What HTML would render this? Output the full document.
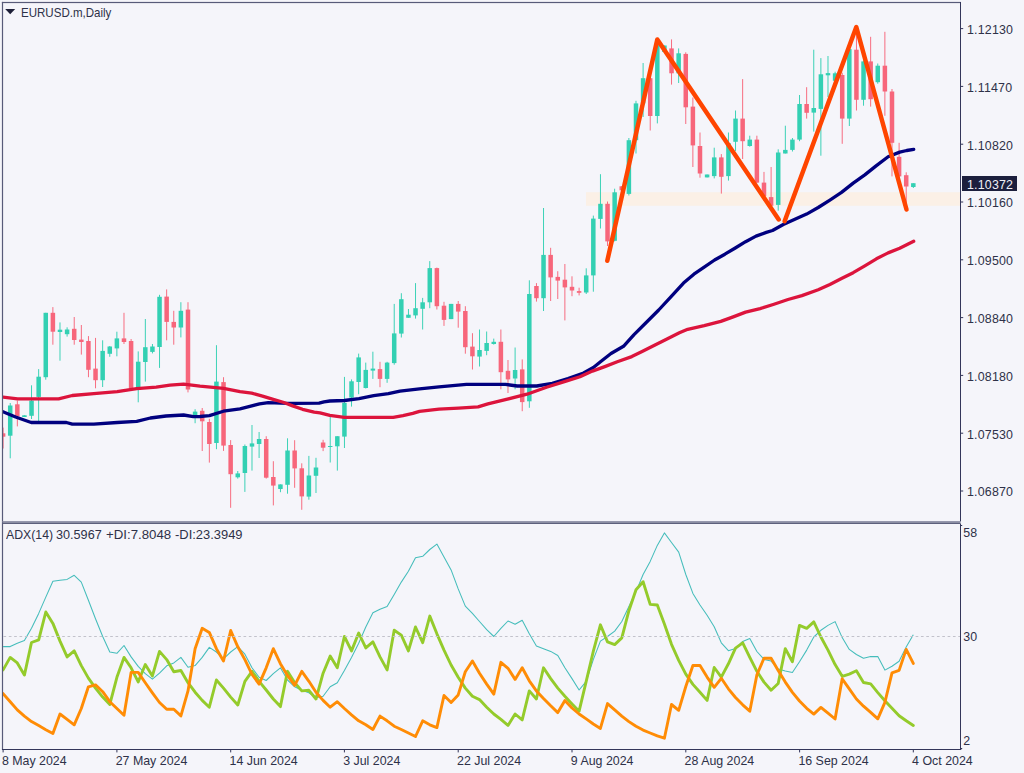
<!DOCTYPE html>
<html><head><meta charset="utf-8"><title>EURUSD.m,Daily</title>
<style>
html,body{margin:0;padding:0;background:#f5f5fa;}
body{width:1024px;height:773px;position:relative;overflow:hidden;font-family:"Liberation Sans",sans-serif;}
.t{position:absolute;font-size:12.4px;line-height:16px;height:16px;color:#2e3148;white-space:nowrap;}
</style></head><body>
<svg width="1024" height="773" viewBox="0 0 1024 773" style="position:absolute;left:0;top:0">
<defs><clipPath id="cm"><rect x="3" y="3" width="957" height="518"/></clipPath><clipPath id="ca"><rect x="3" y="524" width="957" height="225"/></clipPath></defs>
<g clip-path="url(#cm)">
<rect x="586" y="192.2" width="374" height="13.6" fill="#fbf0e6"/>
<rect x="2.62" y="427.6" width="0.95" height="20.9" fill="#f7667b"/>
<rect x="0.85" y="433.3" width="4.5" height="3.4" fill="#f7667b"/>
<rect x="9.74" y="403.0" width="0.95" height="55.3" fill="#33d0b3"/>
<rect x="7.96" y="405.5" width="4.5" height="30.2" fill="#33d0b3"/>
<rect x="16.85" y="400.6" width="0.95" height="25.8" fill="#f7667b"/>
<rect x="15.07" y="404.3" width="4.5" height="12.2" fill="#f7667b"/>
<rect x="23.96" y="415.3" width="0.95" height="1.7" fill="#33d0b3"/>
<rect x="22.18" y="415.3" width="4.5" height="1.7" fill="#33d0b3"/>
<rect x="31.07" y="385.3" width="0.95" height="33.7" fill="#33d0b3"/>
<rect x="29.29" y="400.6" width="4.5" height="15.2" fill="#33d0b3"/>
<rect x="38.18" y="369.1" width="0.95" height="52.4" fill="#33d0b3"/>
<rect x="36.41" y="376.7" width="4.5" height="20.2" fill="#33d0b3"/>
<rect x="45.29" y="312.8" width="0.95" height="66.9" fill="#33d0b3"/>
<rect x="43.52" y="312.8" width="4.5" height="64.4" fill="#33d0b3"/>
<rect x="52.40" y="307.1" width="0.95" height="37.6" fill="#f7667b"/>
<rect x="50.63" y="312.8" width="4.5" height="18.9" fill="#f7667b"/>
<rect x="59.51" y="322.4" width="0.95" height="38.3" fill="#33d0b3"/>
<rect x="57.74" y="329.7" width="4.5" height="2.3" fill="#33d0b3"/>
<rect x="66.62" y="327.3" width="0.95" height="9.3" fill="#33d0b3"/>
<rect x="64.85" y="329.5" width="4.5" height="4.7" fill="#33d0b3"/>
<rect x="73.74" y="317.0" width="0.95" height="27.7" fill="#f7667b"/>
<rect x="71.96" y="328.8" width="4.5" height="11.2" fill="#f7667b"/>
<rect x="80.85" y="325.0" width="0.95" height="29.6" fill="#f7667b"/>
<rect x="79.07" y="339.6" width="4.5" height="2.4" fill="#f7667b"/>
<rect x="87.96" y="336.1" width="0.95" height="41.1" fill="#f7667b"/>
<rect x="86.18" y="341.0" width="4.5" height="28.8" fill="#f7667b"/>
<rect x="95.07" y="337.9" width="0.95" height="50.4" fill="#f7667b"/>
<rect x="93.29" y="368.6" width="4.5" height="11.6" fill="#f7667b"/>
<rect x="102.18" y="340.3" width="0.95" height="46.7" fill="#33d0b3"/>
<rect x="100.41" y="350.9" width="4.5" height="29.3" fill="#33d0b3"/>
<rect x="109.29" y="346.0" width="0.95" height="10.8" fill="#33d0b3"/>
<rect x="107.52" y="346.5" width="4.5" height="7.3" fill="#33d0b3"/>
<rect x="116.40" y="331.7" width="0.95" height="24.6" fill="#33d0b3"/>
<rect x="114.63" y="338.4" width="4.5" height="10.0" fill="#33d0b3"/>
<rect x="123.51" y="312.8" width="0.95" height="31.2" fill="#f7667b"/>
<rect x="121.74" y="338.4" width="4.5" height="3.6" fill="#f7667b"/>
<rect x="130.62" y="339.0" width="0.95" height="50.5" fill="#f7667b"/>
<rect x="128.85" y="341.0" width="4.5" height="47.3" fill="#f7667b"/>
<rect x="137.74" y="351.4" width="0.95" height="50.9" fill="#33d0b3"/>
<rect x="135.96" y="361.7" width="4.5" height="26.1" fill="#33d0b3"/>
<rect x="144.85" y="319.0" width="0.95" height="62.6" fill="#33d0b3"/>
<rect x="143.07" y="347.2" width="4.5" height="14.8" fill="#33d0b3"/>
<rect x="151.96" y="344.0" width="0.95" height="9.4" fill="#33d0b3"/>
<rect x="150.18" y="346.5" width="4.5" height="5.4" fill="#33d0b3"/>
<rect x="159.07" y="294.8" width="0.95" height="73.1" fill="#33d0b3"/>
<rect x="157.29" y="296.8" width="4.5" height="50.2" fill="#33d0b3"/>
<rect x="166.18" y="289.4" width="0.95" height="50.9" fill="#f7667b"/>
<rect x="164.41" y="296.6" width="4.5" height="25.3" fill="#f7667b"/>
<rect x="173.29" y="310.8" width="0.95" height="33.9" fill="#f7667b"/>
<rect x="171.52" y="321.9" width="4.5" height="5.6" fill="#f7667b"/>
<rect x="180.40" y="302.2" width="0.95" height="35.2" fill="#33d0b3"/>
<rect x="178.63" y="310.8" width="4.5" height="16.7" fill="#33d0b3"/>
<rect x="187.51" y="302.2" width="0.95" height="90.2" fill="#f7667b"/>
<rect x="185.74" y="309.6" width="4.5" height="79.9" fill="#f7667b"/>
<rect x="194.62" y="409.2" width="0.95" height="14.0" fill="#33d0b3"/>
<rect x="192.85" y="411.6" width="4.5" height="3.7" fill="#33d0b3"/>
<rect x="201.74" y="408.0" width="0.95" height="43.0" fill="#f7667b"/>
<rect x="199.96" y="410.8" width="4.5" height="10.5" fill="#f7667b"/>
<rect x="208.85" y="418.8" width="0.95" height="43.8" fill="#f7667b"/>
<rect x="207.07" y="422.0" width="4.5" height="22.0" fill="#f7667b"/>
<rect x="215.96" y="345.2" width="0.95" height="104.0" fill="#33d0b3"/>
<rect x="214.18" y="381.6" width="4.5" height="61.4" fill="#33d0b3"/>
<rect x="223.07" y="377.2" width="0.95" height="73.7" fill="#f7667b"/>
<rect x="221.29" y="382.1" width="4.5" height="63.5" fill="#f7667b"/>
<rect x="230.18" y="440.1" width="0.95" height="67.7" fill="#f7667b"/>
<rect x="228.41" y="445.0" width="4.5" height="29.2" fill="#f7667b"/>
<rect x="237.29" y="471.0" width="0.95" height="7.6" fill="#33d0b3"/>
<rect x="235.52" y="473.4" width="4.5" height="3.9" fill="#33d0b3"/>
<rect x="244.40" y="444.5" width="0.95" height="47.4" fill="#33d0b3"/>
<rect x="242.63" y="446.0" width="4.5" height="27.0" fill="#33d0b3"/>
<rect x="251.51" y="425.0" width="0.95" height="45.6" fill="#33d0b3"/>
<rect x="249.74" y="443.4" width="4.5" height="3.2" fill="#33d0b3"/>
<rect x="258.62" y="432.0" width="0.95" height="26.0" fill="#33d0b3"/>
<rect x="256.85" y="439.0" width="4.5" height="5.0" fill="#33d0b3"/>
<rect x="265.74" y="436.2" width="0.95" height="42.4" fill="#f7667b"/>
<rect x="263.96" y="439.0" width="4.5" height="38.7" fill="#f7667b"/>
<rect x="272.85" y="461.2" width="0.95" height="44.2" fill="#f7667b"/>
<rect x="271.07" y="477.0" width="4.5" height="8.6" fill="#f7667b"/>
<rect x="279.96" y="484.4" width="0.95" height="7.8" fill="#33d0b3"/>
<rect x="278.18" y="484.4" width="4.5" height="4.6" fill="#33d0b3"/>
<rect x="287.07" y="438.3" width="0.95" height="55.4" fill="#33d0b3"/>
<rect x="285.29" y="450.5" width="4.5" height="34.3" fill="#33d0b3"/>
<rect x="294.18" y="440.2" width="0.95" height="47.6" fill="#f7667b"/>
<rect x="292.41" y="450.5" width="4.5" height="17.9" fill="#f7667b"/>
<rect x="301.29" y="463.3" width="0.95" height="46.5" fill="#f7667b"/>
<rect x="299.52" y="468.3" width="4.5" height="28.1" fill="#f7667b"/>
<rect x="308.40" y="455.9" width="0.95" height="43.8" fill="#33d0b3"/>
<rect x="306.63" y="475.5" width="4.5" height="21.1" fill="#33d0b3"/>
<rect x="315.51" y="457.8" width="0.95" height="35.2" fill="#33d0b3"/>
<rect x="313.74" y="467.5" width="4.5" height="8.3" fill="#33d0b3"/>
<rect x="322.62" y="439.8" width="0.95" height="11.3" fill="#f7667b"/>
<rect x="320.85" y="442.5" width="4.5" height="5.2" fill="#f7667b"/>
<rect x="329.74" y="416.0" width="0.95" height="46.5" fill="#33d0b3"/>
<rect x="327.96" y="446.0" width="4.5" height="1.0" fill="#33d0b3"/>
<rect x="336.85" y="436.2" width="0.95" height="34.4" fill="#33d0b3"/>
<rect x="335.07" y="436.2" width="4.5" height="10.1" fill="#33d0b3"/>
<rect x="343.96" y="376.9" width="0.95" height="71.1" fill="#33d0b3"/>
<rect x="342.18" y="402.8" width="4.5" height="33.8" fill="#33d0b3"/>
<rect x="351.07" y="379.4" width="0.95" height="27.2" fill="#33d0b3"/>
<rect x="349.29" y="381.3" width="4.5" height="16.3" fill="#33d0b3"/>
<rect x="358.18" y="353.6" width="0.95" height="40.6" fill="#33d0b3"/>
<rect x="356.41" y="357.4" width="4.5" height="24.6" fill="#33d0b3"/>
<rect x="365.29" y="362.6" width="0.95" height="25.9" fill="#33d0b3"/>
<rect x="363.52" y="369.9" width="4.5" height="18.1" fill="#33d0b3"/>
<rect x="372.40" y="351.7" width="0.95" height="27.2" fill="#33d0b3"/>
<rect x="370.63" y="368.6" width="4.5" height="2.0" fill="#33d0b3"/>
<rect x="379.51" y="361.8" width="0.95" height="25.4" fill="#f7667b"/>
<rect x="377.74" y="369.1" width="4.5" height="9.8" fill="#f7667b"/>
<rect x="386.62" y="361.8" width="0.95" height="21.0" fill="#33d0b3"/>
<rect x="384.85" y="362.6" width="4.5" height="16.3" fill="#33d0b3"/>
<rect x="393.74" y="303.9" width="0.95" height="60.8" fill="#33d0b3"/>
<rect x="391.96" y="333.4" width="4.5" height="29.7" fill="#33d0b3"/>
<rect x="400.85" y="293.2" width="0.95" height="44.3" fill="#33d0b3"/>
<rect x="399.07" y="299.2" width="4.5" height="34.4" fill="#33d0b3"/>
<rect x="407.96" y="309.0" width="0.95" height="8.8" fill="#33d0b3"/>
<rect x="406.18" y="314.7" width="4.5" height="3.1" fill="#33d0b3"/>
<rect x="415.07" y="283.1" width="0.95" height="35.5" fill="#33d0b3"/>
<rect x="413.29" y="308.2" width="4.5" height="7.2" fill="#33d0b3"/>
<rect x="422.18" y="297.9" width="0.95" height="31.6" fill="#33d0b3"/>
<rect x="420.40" y="302.3" width="4.5" height="6.5" fill="#33d0b3"/>
<rect x="429.29" y="261.1" width="0.95" height="47.1" fill="#33d0b3"/>
<rect x="427.52" y="268.1" width="4.5" height="34.2" fill="#33d0b3"/>
<rect x="436.40" y="267.6" width="0.95" height="41.9" fill="#f7667b"/>
<rect x="434.63" y="268.1" width="4.5" height="38.1" fill="#f7667b"/>
<rect x="443.51" y="301.8" width="0.95" height="24.1" fill="#f7667b"/>
<rect x="441.74" y="305.7" width="4.5" height="14.2" fill="#f7667b"/>
<rect x="450.62" y="303.9" width="0.95" height="15.2" fill="#33d0b3"/>
<rect x="448.85" y="303.9" width="4.5" height="15.2" fill="#33d0b3"/>
<rect x="457.74" y="301.0" width="0.95" height="26.7" fill="#f7667b"/>
<rect x="455.96" y="303.9" width="4.5" height="7.7" fill="#f7667b"/>
<rect x="464.85" y="306.2" width="0.95" height="47.5" fill="#f7667b"/>
<rect x="463.07" y="311.0" width="4.5" height="36.2" fill="#f7667b"/>
<rect x="471.96" y="333.2" width="0.95" height="36.3" fill="#f7667b"/>
<rect x="470.18" y="346.6" width="4.5" height="9.7" fill="#f7667b"/>
<rect x="479.07" y="329.5" width="0.95" height="37.0" fill="#33d0b3"/>
<rect x="477.29" y="350.0" width="4.5" height="6.6" fill="#33d0b3"/>
<rect x="486.18" y="331.5" width="0.95" height="23.7" fill="#33d0b3"/>
<rect x="484.40" y="343.0" width="4.5" height="7.9" fill="#33d0b3"/>
<rect x="493.29" y="338.6" width="0.95" height="6.0" fill="#33d0b3"/>
<rect x="491.52" y="341.8" width="4.5" height="2.2" fill="#33d0b3"/>
<rect x="500.40" y="329.5" width="0.95" height="59.8" fill="#f7667b"/>
<rect x="498.63" y="341.8" width="4.5" height="30.4" fill="#f7667b"/>
<rect x="507.51" y="360.0" width="0.95" height="33.0" fill="#f7667b"/>
<rect x="505.74" y="370.8" width="4.5" height="8.6" fill="#f7667b"/>
<rect x="514.62" y="347.5" width="0.95" height="41.8" fill="#33d0b3"/>
<rect x="512.85" y="370.0" width="4.5" height="8.5" fill="#33d0b3"/>
<rect x="521.74" y="359.4" width="0.95" height="51.8" fill="#f7667b"/>
<rect x="519.96" y="369.4" width="4.5" height="32.7" fill="#f7667b"/>
<rect x="528.85" y="280.3" width="0.95" height="127.5" fill="#33d0b3"/>
<rect x="527.07" y="294.0" width="4.5" height="107.3" fill="#33d0b3"/>
<rect x="535.96" y="283.1" width="0.95" height="18.5" fill="#f7667b"/>
<rect x="534.18" y="286.0" width="4.5" height="12.2" fill="#f7667b"/>
<rect x="543.07" y="208.0" width="0.95" height="103.0" fill="#33d0b3"/>
<rect x="541.29" y="254.9" width="4.5" height="43.3" fill="#33d0b3"/>
<rect x="550.18" y="247.8" width="0.95" height="53.2" fill="#f7667b"/>
<rect x="548.40" y="254.9" width="4.5" height="22.5" fill="#f7667b"/>
<rect x="557.29" y="271.2" width="0.95" height="27.8" fill="#f7667b"/>
<rect x="555.52" y="276.9" width="4.5" height="3.7" fill="#f7667b"/>
<rect x="564.40" y="264.0" width="0.95" height="56.4" fill="#f7667b"/>
<rect x="562.63" y="279.7" width="4.5" height="7.7" fill="#f7667b"/>
<rect x="571.51" y="276.3" width="0.95" height="19.9" fill="#f7667b"/>
<rect x="569.74" y="286.8" width="4.5" height="3.7" fill="#f7667b"/>
<rect x="578.62" y="287.7" width="0.95" height="7.7" fill="#f7667b"/>
<rect x="576.85" y="291.1" width="4.5" height="1.7" fill="#f7667b"/>
<rect x="585.74" y="268.3" width="0.95" height="25.7" fill="#33d0b3"/>
<rect x="583.96" y="275.4" width="4.5" height="17.1" fill="#33d0b3"/>
<rect x="592.85" y="215.6" width="0.95" height="76.1" fill="#33d0b3"/>
<rect x="591.07" y="218.6" width="4.5" height="56.8" fill="#33d0b3"/>
<rect x="599.96" y="174.2" width="0.95" height="54.3" fill="#33d0b3"/>
<rect x="598.18" y="203.8" width="4.5" height="15.1" fill="#33d0b3"/>
<rect x="607.07" y="201.5" width="0.95" height="44.5" fill="#f7667b"/>
<rect x="605.29" y="203.8" width="4.5" height="37.6" fill="#f7667b"/>
<rect x="614.18" y="188.7" width="0.95" height="52.7" fill="#33d0b3"/>
<rect x="612.40" y="192.3" width="4.5" height="48.5" fill="#33d0b3"/>
<rect x="621.29" y="186.0" width="0.95" height="4.5" fill="#f7667b"/>
<rect x="619.52" y="186.3" width="4.5" height="4.0" fill="#f7667b"/>
<rect x="628.40" y="138.0" width="0.95" height="57.5" fill="#33d0b3"/>
<rect x="626.63" y="140.2" width="4.5" height="53.7" fill="#33d0b3"/>
<rect x="635.51" y="100.8" width="0.95" height="52.7" fill="#33d0b3"/>
<rect x="633.74" y="103.4" width="4.5" height="36.8" fill="#33d0b3"/>
<rect x="642.62" y="63.0" width="0.95" height="54.0" fill="#33d0b3"/>
<rect x="640.85" y="78.2" width="4.5" height="25.2" fill="#33d0b3"/>
<rect x="649.74" y="73.3" width="0.95" height="57.2" fill="#f7667b"/>
<rect x="647.96" y="78.2" width="4.5" height="37.8" fill="#f7667b"/>
<rect x="656.85" y="44.2" width="0.95" height="79.2" fill="#33d0b3"/>
<rect x="655.07" y="45.2" width="4.5" height="70.8" fill="#33d0b3"/>
<rect x="663.96" y="45.5" width="0.95" height="6.5" fill="#33d0b3"/>
<rect x="662.18" y="45.5" width="4.5" height="6.5" fill="#33d0b3"/>
<rect x="671.07" y="39.4" width="0.95" height="45.2" fill="#f7667b"/>
<rect x="669.29" y="48.4" width="4.5" height="24.9" fill="#f7667b"/>
<rect x="678.18" y="48.4" width="0.95" height="34.6" fill="#33d0b3"/>
<rect x="676.40" y="53.3" width="4.5" height="20.0" fill="#33d0b3"/>
<rect x="685.29" y="52.3" width="0.95" height="71.7" fill="#f7667b"/>
<rect x="683.52" y="53.9" width="4.5" height="53.4" fill="#f7667b"/>
<rect x="692.40" y="97.5" width="0.95" height="69.5" fill="#f7667b"/>
<rect x="690.63" y="106.6" width="4.5" height="38.8" fill="#f7667b"/>
<rect x="699.51" y="132.5" width="0.95" height="45.2" fill="#f7667b"/>
<rect x="697.74" y="146.0" width="4.5" height="27.5" fill="#f7667b"/>
<rect x="706.62" y="174.5" width="0.95" height="2.9" fill="#33d0b3"/>
<rect x="704.85" y="174.5" width="4.5" height="2.9" fill="#33d0b3"/>
<rect x="713.74" y="147.7" width="0.95" height="30.7" fill="#33d0b3"/>
<rect x="711.96" y="157.4" width="4.5" height="18.7" fill="#33d0b3"/>
<rect x="720.85" y="154.1" width="0.95" height="39.5" fill="#f7667b"/>
<rect x="719.07" y="157.4" width="4.5" height="19.4" fill="#f7667b"/>
<rect x="727.96" y="132.5" width="0.95" height="48.1" fill="#33d0b3"/>
<rect x="726.18" y="143.0" width="4.5" height="33.1" fill="#33d0b3"/>
<rect x="735.07" y="110.5" width="0.95" height="40.5" fill="#33d0b3"/>
<rect x="733.29" y="118.6" width="4.5" height="23.2" fill="#33d0b3"/>
<rect x="742.18" y="79.1" width="0.95" height="79.9" fill="#f7667b"/>
<rect x="740.40" y="118.6" width="4.5" height="22.6" fill="#f7667b"/>
<rect x="749.29" y="135.7" width="0.95" height="11.0" fill="#33d0b3"/>
<rect x="747.52" y="139.6" width="4.5" height="6.4" fill="#33d0b3"/>
<rect x="756.40" y="135.7" width="0.95" height="47.5" fill="#f7667b"/>
<rect x="754.63" y="139.6" width="4.5" height="43.0" fill="#f7667b"/>
<rect x="763.51" y="171.9" width="0.95" height="29.1" fill="#f7667b"/>
<rect x="761.74" y="182.6" width="4.5" height="13.5" fill="#f7667b"/>
<rect x="770.62" y="167.0" width="0.95" height="38.8" fill="#f7667b"/>
<rect x="768.85" y="197.1" width="4.5" height="8.7" fill="#f7667b"/>
<rect x="777.73" y="149.3" width="0.95" height="61.4" fill="#33d0b3"/>
<rect x="775.96" y="152.5" width="4.5" height="52.4" fill="#33d0b3"/>
<rect x="784.85" y="125.7" width="0.95" height="27.8" fill="#33d0b3"/>
<rect x="783.07" y="149.9" width="4.5" height="3.6" fill="#33d0b3"/>
<rect x="791.96" y="138.0" width="0.95" height="13.5" fill="#33d0b3"/>
<rect x="790.18" y="139.6" width="4.5" height="10.3" fill="#33d0b3"/>
<rect x="799.07" y="95.0" width="0.95" height="46.2" fill="#33d0b3"/>
<rect x="797.29" y="104.0" width="4.5" height="35.6" fill="#33d0b3"/>
<rect x="806.18" y="87.2" width="0.95" height="31.4" fill="#f7667b"/>
<rect x="804.40" y="104.0" width="4.5" height="8.8" fill="#f7667b"/>
<rect x="813.29" y="49.7" width="0.95" height="81.9" fill="#33d0b3"/>
<rect x="811.52" y="108.0" width="4.5" height="4.6" fill="#33d0b3"/>
<rect x="820.40" y="58.1" width="0.95" height="97.6" fill="#33d0b3"/>
<rect x="818.63" y="74.3" width="4.5" height="34.6" fill="#33d0b3"/>
<rect x="827.51" y="56.0" width="0.95" height="41.0" fill="#33d0b3"/>
<rect x="825.74" y="73.1" width="4.5" height="2.2" fill="#33d0b3"/>
<rect x="834.62" y="71.7" width="0.95" height="9.7" fill="#33d0b3"/>
<rect x="832.85" y="73.3" width="4.5" height="7.5" fill="#33d0b3"/>
<rect x="841.73" y="72.7" width="0.95" height="71.1" fill="#f7667b"/>
<rect x="839.96" y="75.0" width="4.5" height="43.6" fill="#f7667b"/>
<rect x="848.85" y="45.9" width="0.95" height="80.1" fill="#33d0b3"/>
<rect x="847.07" y="49.1" width="4.5" height="69.5" fill="#33d0b3"/>
<rect x="855.96" y="29.7" width="0.95" height="80.8" fill="#f7667b"/>
<rect x="854.18" y="49.7" width="4.5" height="50.1" fill="#f7667b"/>
<rect x="863.07" y="60.4" width="0.95" height="45.3" fill="#33d0b3"/>
<rect x="861.29" y="61.4" width="4.5" height="38.4" fill="#33d0b3"/>
<rect x="870.18" y="36.8" width="0.95" height="69.8" fill="#f7667b"/>
<rect x="868.40" y="61.4" width="4.5" height="37.8" fill="#f7667b"/>
<rect x="877.29" y="63.5" width="0.95" height="20.2" fill="#33d0b3"/>
<rect x="875.52" y="65.7" width="4.5" height="16.5" fill="#33d0b3"/>
<rect x="884.40" y="31.8" width="0.95" height="84.0" fill="#f7667b"/>
<rect x="882.63" y="65.7" width="4.5" height="25.8" fill="#f7667b"/>
<rect x="891.51" y="89.0" width="0.95" height="87.4" fill="#f7667b"/>
<rect x="889.74" y="91.5" width="4.5" height="51.3" fill="#f7667b"/>
<rect x="898.62" y="142.8" width="0.95" height="38.9" fill="#f7667b"/>
<rect x="896.85" y="156.8" width="4.5" height="19.6" fill="#f7667b"/>
<rect x="905.73" y="172.3" width="0.95" height="34.5" fill="#f7667b"/>
<rect x="903.96" y="175.2" width="4.5" height="11.3" fill="#f7667b"/>
<rect x="912.85" y="183.2" width="0.95" height="4.8" fill="#33d0b3"/>
<rect x="911.07" y="183.2" width="4.5" height="3.8" fill="#33d0b3"/>
<polyline points="2.9,411.7 15.6,417.0 31.2,422.5 66.4,422.5 72.3,424.2 93.8,424.2 117.2,422.5 136.7,421.3 150.4,418.0 166.0,416.0 183.6,415.0 193.4,416.6 200.0,416.5 209.4,415.6 223.4,411.2 240.0,408.8 249.8,406.4 259.5,403.9 268.3,402.7 281.0,403.2 294.7,403.4 319.1,403.2 324.0,401.9 329.8,401.0 344.4,400.5 359.0,398.6 373.7,395.6 388.4,393.7 400.0,391.1 419.5,388.9 439.0,386.8 466.4,384.4 505.5,384.4 517.2,386.0 536.7,386.0 552.3,383.4 568.0,378.5 583.6,373.0 593.4,367.5 600.5,361.8 611.0,353.5 623.5,346.3 633.8,334.9 646.2,322.5 658.7,310.0 671.1,296.6 683.5,283.1 693.9,274.2 704.2,267.2 714.6,260.0 724.9,254.2 735.3,248.0 745.6,241.7 756.0,236.1 766.3,232.4 772.5,230.5 783.3,224.5 794.9,219.2 806.6,214.1 818.2,207.5 829.9,200.1 841.5,192.4 853.2,183.1 864.8,174.9 876.4,165.6 888.1,156.8 899.7,152.1 906.7,150.5 913.7,149.3" fill="none" stroke="#00007f" stroke-width="3.3" stroke-linejoin="round" stroke-linecap="round"/>
<polyline points="2.9,397.1 17.6,398.8 58.6,398.8 72.3,395.5 93.8,393.6 117.2,391.6 136.7,388.7 156.2,387.1 170.0,385.2 183.6,384.2 200.0,386.1 223.6,388.3 240.0,391.7 251.7,393.2 262.5,396.1 273.2,399.3 283.9,402.5 292.7,405.9 302.5,409.3 314.2,412.2 320.0,412.9 329.8,415.4 344.4,417.3 393.2,417.3 403.0,415.6 412.8,413.4 419.5,411.4 439.0,409.2 458.6,408.2 478.1,406.9 487.9,403.9 507.4,399.1 527.0,394.2 546.5,387.3 566.0,381.1 580.0,376.7 592.4,371.1 604.8,366.6 617.3,361.8 631.8,356.6 642.1,351.5 654.5,345.3 667.0,339.0 679.4,332.8 687.7,329.3 704.2,325.6 720.8,321.4 733.2,316.9 745.6,312.1 760.1,308.6 774.0,304.2 788.0,299.5 801.9,295.6 818.2,289.7 829.9,284.4 841.5,278.6 853.2,272.7 864.8,265.8 876.4,258.8 888.1,252.9 899.7,248.3 913.7,241.3" fill="none" stroke="#dc143c" stroke-width="3.3" stroke-linejoin="round" stroke-linecap="round"/>
<polyline points="607.3,260.7 657.3,39.5 778.7,219.5" fill="none" stroke="#ff4500" stroke-width="4.5" stroke-linejoin="round" stroke-linecap="round"/>
<polyline points="784.6,221.3 856.3,27 906.5,209.5" fill="none" stroke="#ff4500" stroke-width="4.5" stroke-linejoin="round" stroke-linecap="round"/>
</g>
<g clip-path="url(#ca)">
<polyline points="3.1,646.6 10.2,646.6 17.3,643.3 24.4,640.6 31.5,628.3 38.7,613.4 45.8,597.1 52.9,581.3 60.0,580.2 67.1,579.4 74.2,575.3 81.3,582.1 88.4,600.3 95.5,618.8 102.7,636.5 109.8,652.0 116.9,653.3 124.0,645.5 131.1,656.9 138.2,666.4 145.3,673.7 152.4,679.2 159.5,673.2 166.7,665.8 173.8,662.9 180.9,657.4 188.0,667.2 195.1,665.6 202.2,657.4 209.3,647.4 216.4,652.0 223.5,658.8 230.7,652.0 237.8,646.6 244.9,654.2 252.0,667.8 259.1,677.3 266.2,680.5 273.3,673.7 280.4,667.8 287.5,680.0 294.7,686.8 301.8,690.3 308.9,692.8 316.0,697.7 323.1,696.3 330.2,686.8 337.3,682.7 344.4,670.5 351.5,657.4 358.7,643.3 365.8,627.0 372.9,612.8 380.0,609.3 387.1,606.6 394.2,594.4 401.3,582.1 408.4,571.3 415.5,557.7 422.7,556.3 429.8,549.5 436.9,544.1 444.0,556.9 451.1,569.9 458.2,588.9 465.3,606.1 472.4,613.4 479.5,621.5 486.7,629.7 493.8,636.5 500.9,628.3 508.0,621.0 515.1,624.3 522.2,620.2 529.3,633.8 536.4,646.0 543.5,648.7 550.7,651.4 557.8,655.5 564.9,667.8 572.0,678.6 579.1,690.0 586.2,681.3 593.3,659.6 600.4,641.1 607.5,636.5 614.7,631.1 621.8,621.5 628.9,606.6 636.0,591.6 643.1,574.5 650.2,561.4 657.3,545.4 664.4,532.9 671.5,542.5 678.7,552.1 685.8,574.5 692.9,593.4 700.0,605.0 707.1,615.2 714.2,626.8 721.3,642.8 728.4,650.7 735.5,648.6 742.7,641.4 749.8,638.5 756.9,651.5 764.0,659.4 771.1,661.1 778.2,669.0 785.3,671.0 792.4,672.5 799.5,661.7 806.7,650.1 813.8,637.0 820.9,630.3 828.0,625.4 835.1,621.6 842.2,637.6 849.3,649.4 856.4,654.5 863.5,658.2 870.7,656.6 877.8,656.6 884.9,670.1 892.0,666.2 899.1,661.2 906.2,646.9 913.3,634.8" fill="none" stroke="#45bdbb" stroke-width="1.05" stroke-linejoin="round"/>
<polyline points="3.1,669.9 10.2,657.4 17.3,662.9 24.4,675.1 31.5,642.5 38.7,639.8 45.8,612.0 52.9,623.4 60.0,641.1 67.1,656.9 74.2,650.9 81.3,665.6 88.4,678.1 95.5,688.1 102.7,697.1 109.8,704.4 116.9,677.3 124.0,657.4 131.1,667.8 138.2,681.9 145.3,664.5 152.4,675.9 159.5,651.4 166.7,659.6 173.8,671.8 180.9,670.5 188.0,682.7 195.1,692.2 202.2,700.4 209.3,707.2 216.4,680.0 223.5,688.1 230.7,697.1 237.8,705.0 244.9,681.3 252.0,671.3 259.1,681.3 266.2,690.0 273.3,699.0 280.4,706.6 287.5,671.3 294.7,682.7 301.8,690.9 308.9,690.3 316.0,699.0 323.1,673.2 330.2,656.1 337.3,667.8 344.4,636.5 351.5,650.9 358.7,633.0 365.8,647.9 372.9,641.9 380.0,656.9 387.1,669.9 394.2,630.2 401.3,635.1 408.4,650.9 415.5,627.0 422.7,642.7 429.8,616.1 436.9,633.8 444.0,650.1 451.1,665.0 458.2,677.3 465.3,688.1 472.4,696.3 479.5,699.6 486.7,707.2 493.8,714.0 500.9,719.4 508.0,725.4 515.1,714.0 522.2,719.9 529.3,690.9 536.4,699.0 543.5,667.8 550.7,678.6 557.8,688.1 564.9,696.3 572.0,703.9 579.1,711.2 586.2,681.3 593.3,651.4 600.4,624.8 607.5,641.9 614.7,644.6 621.8,637.9 628.9,610.7 636.0,589.7 643.1,581.7 650.2,604.4 657.3,605.0 664.4,623.9 671.5,644.3 678.7,660.3 685.8,674.2 692.9,684.4 700.0,692.3 707.1,700.4 714.2,667.5 721.3,677.1 728.4,663.8 735.5,648.1 742.7,642.8 749.8,657.4 756.9,671.3 764.0,682.1 771.1,690.2 778.2,683.5 785.3,648.6 792.4,661.7 799.5,625.4 806.7,628.3 813.8,621.9 820.9,637.0 828.0,650.1 835.1,664.6 842.2,676.3 849.3,674.1 856.4,670.8 863.5,682.5 870.7,683.9 877.8,692.6 884.9,700.7 892.0,708.2 899.1,715.8 906.2,720.8 913.3,725.5" fill="none" stroke="#94cb2b" stroke-width="2.9" stroke-linejoin="round" stroke-linecap="round"/>
<polyline points="3.1,693.6 10.2,701.7 17.3,709.9 24.4,716.1 31.5,721.6 38.7,725.6 45.8,729.7 52.9,733.5 60.0,714.0 67.1,719.4 74.2,724.8 81.3,708.5 88.4,686.8 95.5,684.9 102.7,691.7 109.8,701.7 116.9,708.5 124.0,715.3 131.1,672.4 138.2,672.4 145.3,682.7 152.4,692.8 159.5,702.5 166.7,709.3 173.8,709.3 180.9,715.9 188.0,690.9 195.1,648.7 202.2,628.3 209.3,632.4 216.4,648.7 223.5,661.0 230.7,630.5 237.8,646.8 244.9,659.6 252.0,674.5 259.1,684.1 266.2,667.8 273.3,648.7 280.4,663.7 287.5,675.4 294.7,685.4 301.8,671.3 308.9,681.3 316.0,692.2 323.1,700.4 330.2,707.2 337.3,701.7 344.4,708.5 351.5,714.8 358.7,720.8 365.8,724.8 372.9,729.5 380.0,716.1 387.1,720.8 394.2,726.2 401.3,729.5 408.4,733.0 415.5,736.5 422.7,720.8 429.8,724.8 436.9,727.6 444.0,695.5 451.1,702.5 458.2,694.9 465.3,671.8 472.4,661.0 479.5,673.2 486.7,684.1 493.8,694.1 500.9,662.3 508.0,668.3 515.1,679.4 522.2,667.8 529.3,680.8 536.4,690.9 543.5,698.5 550.7,705.8 557.8,712.6 564.9,700.4 572.0,708.0 579.1,714.0 586.2,718.9 593.3,724.0 600.4,728.4 607.5,703.6 614.7,709.9 621.8,716.1 628.9,721.6 636.0,726.2 643.1,730.1 650.2,733.0 657.3,735.9 664.4,738.2 671.5,704.5 678.7,710.3 685.8,686.5 692.9,665.5 700.0,665.5 707.1,677.1 714.2,687.3 721.3,678.3 728.4,688.8 735.5,697.5 742.7,704.8 749.8,711.2 756.9,674.8 764.0,658.2 771.1,658.2 778.2,670.5 785.3,682.1 792.4,692.3 799.5,701.0 806.7,708.3 813.8,714.1 820.9,707.4 828.0,713.2 835.1,719.0 842.2,678.8 849.3,688.9 856.4,699.0 863.5,706.2 870.7,712.4 877.8,718.8 884.9,702.4 892.0,672.9 899.1,670.4 906.2,649.4 913.3,663.4" fill="none" stroke="#ff8c05" stroke-width="2.9" stroke-linejoin="round" stroke-linecap="round"/>
<line x1="3.5" y1="636.5" x2="960" y2="636.5" stroke="#c2c2cb" stroke-width="1" stroke-dasharray="2.667,2.667"/>
</g>
<rect x="1.9" y="1.9" width="959" height="1.2" fill="#585b79"/>
<rect x="1.9" y="1.9" width="1.2" height="748" fill="#585b79"/>
<rect x="960" y="2" width="1" height="519.6" fill="#33365a"/>
<rect x="960" y="523.6" width="1" height="226.4" fill="#33365a"/>
<rect x="2" y="749" width="959.3" height="1" fill="#33365a"/>
<rect x="2.5" y="521" width="958" height="1.6" fill="#9698ad"/>
<rect x="2.5" y="522.5" width="958" height="1.5" fill="#5d607c"/>
<rect x="961" y="28.1" width="2.2" height="1" fill="#33365a"/>
<rect x="961" y="85.9" width="2.2" height="1" fill="#33365a"/>
<rect x="961" y="143.7" width="2.2" height="1" fill="#33365a"/>
<rect x="961" y="201.5" width="2.2" height="1" fill="#33365a"/>
<rect x="961" y="259.3" width="2.2" height="1" fill="#33365a"/>
<rect x="961" y="317.1" width="2.2" height="1" fill="#33365a"/>
<rect x="961" y="374.9" width="2.2" height="1" fill="#33365a"/>
<rect x="961" y="432.7" width="2.2" height="1" fill="#33365a"/>
<rect x="961" y="490.5" width="2.2" height="1" fill="#33365a"/>
<rect x="961" y="525" width="1.2" height="1" fill="#33365a"/>
<rect x="961" y="748" width="1.2" height="1" fill="#33365a"/>
<rect x="2.6" y="750" width="1" height="2.4" fill="#33365a"/>
<rect x="116.4" y="750" width="1" height="2.4" fill="#33365a"/>
<rect x="230.2" y="750" width="1" height="2.4" fill="#33365a"/>
<rect x="343.9" y="750" width="1" height="2.4" fill="#33365a"/>
<rect x="457.7" y="750" width="1" height="2.4" fill="#33365a"/>
<rect x="571.5" y="750" width="1" height="2.4" fill="#33365a"/>
<rect x="685.3" y="750" width="1" height="2.4" fill="#33365a"/>
<rect x="799.1" y="750" width="1" height="2.4" fill="#33365a"/>
<rect x="912.8" y="750" width="1" height="2.4" fill="#33365a"/>
<path d="M5.2 9 L15.2 9 L10.2 14.3 Z" fill="#1e2038"/>
</svg>
<div class="t" style="left:967px;top:22px;letter-spacing:0.2px">1.12130</div>
<div class="t" style="left:967px;top:80px;letter-spacing:0.2px">1.11470</div>
<div class="t" style="left:967px;top:138px;letter-spacing:0.2px">1.10820</div>
<div class="t" style="left:967px;top:195px;letter-spacing:0.2px">1.10160</div>
<div class="t" style="left:967px;top:253px;letter-spacing:0.2px">1.09500</div>
<div class="t" style="left:967px;top:311px;letter-spacing:0.2px">1.08840</div>
<div class="t" style="left:967px;top:369px;letter-spacing:0.2px">1.08180</div>
<div class="t" style="left:967px;top:427px;letter-spacing:0.2px">1.07530</div>
<div class="t" style="left:967px;top:484px;letter-spacing:0.2px">1.06870</div>
<div class="t" style="left:963.3px;top:525px">58</div>
<div class="t" style="left:963.3px;top:629px">30</div>
<div class="t" style="left:963.3px;top:733px">2</div>
<div class="t" style="left:1.9px;top:753px">8 May 2024</div>
<div class="t" style="left:115.7px;top:753px">27 May 2024</div>
<div class="t" style="left:229.5px;top:753px">14 Jun 2024</div>
<div class="t" style="left:343.2px;top:753px">3 Jul 2024</div>
<div class="t" style="left:457.0px;top:753px">22 Jul 2024</div>
<div class="t" style="left:570.8px;top:753px">9 Aug 2024</div>
<div class="t" style="left:684.6px;top:753px">28 Aug 2024</div>
<div class="t" style="left:798.4px;top:753px">16 Sep 2024</div>
<div class="t" style="left:912.1px;top:753px">4 Oct 2024</div>
<div class="t" style="left:21.3px;top:5px;transform:scaleX(0.931);transform-origin:0 0">EURUSD.m,Daily</div>
<div class="t" style="left:6.3px;top:527px;transform:scaleX(0.99);transform-origin:0 0">ADX(14)</div>
<div class="t" style="left:55.9px;top:527px;transform:scaleX(1.02);transform-origin:0 0">30.5967</div>
<div class="t" style="left:105.9px;top:527px;transform:scaleX(1.068);transform-origin:0 0">+DI:7.8048</div>
<div class="t" style="left:174.7px;top:527px;transform:scaleX(1.043);transform-origin:0 0">-DI:23.3949</div>
<div style="position:absolute;left:962px;top:176px;width:55px;height:15px;background:#1c1f3d"></div>
<div class="t" style="left:967px;top:177px;color:#f0f0f6;letter-spacing:0.2px">1.10372</div>
</body></html>
